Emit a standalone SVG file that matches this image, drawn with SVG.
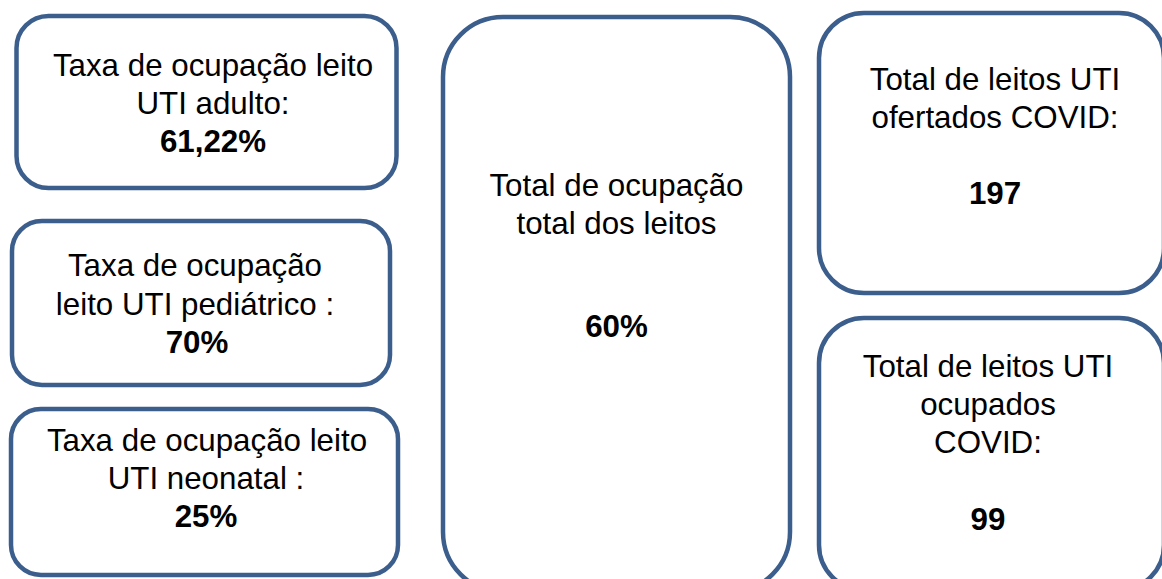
<svg xmlns="http://www.w3.org/2000/svg" width="1162" height="579" viewBox="0 0 1162 579">
<style>
.box{fill:#ffffff;stroke:#3B5E8C;stroke-width:4.5}
.t{font-family:"Liberation Sans",Arial,sans-serif;font-size:31.3px;fill:#000000;text-anchor:middle}
.b{font-weight:bold}
</style>
<rect width="1162" height="579" fill="#ffffff"/>
<g id="connectors"/>
<g id="uti-adulto">
<rect class="box" x="16.5" y="16" width="380" height="172" rx="32" ry="32"/>
<text class="t" x="213" y="76">Taxa de ocupação leito</text>
<text class="t" x="213" y="114">UTI adulto:</text>
<text class="t b" x="213" y="152">61,22%</text>
</g>
<g id="uti-pediatrico">
<rect class="box" x="12" y="221" width="378" height="164" rx="30" ry="30"/>
<text class="t" x="195" y="276">Taxa de ocupação</text>
<text class="t" x="195" y="315">leito UTI pediátrico :</text>
<text class="t b" x="197" y="353">70%</text>
</g>
<g id="uti-neonatal">
<rect class="box" x="11" y="409" width="387" height="166" rx="30" ry="30"/>
<text class="t" x="207" y="451">Taxa de ocupação leito</text>
<text class="t" x="206" y="489">UTI neonatal :</text>
<text class="t b" x="206" y="527">25%</text>
</g>
<g id="total-ocupacao">
<rect class="box" x="443" y="17" width="347" height="575" rx="60" ry="60"/>
<text class="t" x="616.5" y="196">Total de ocupação</text>
<text class="t" x="616.5" y="234">total dos leitos</text>
<text class="t b" x="616.5" y="337">60%</text>
</g>
<g id="leitos-ofertados">
<rect class="box" x="819" y="13" width="345" height="280" rx="45" ry="45"/>
<text class="t" x="995" y="90">Total de leitos UTI</text>
<text class="t" x="995" y="128">ofertados COVID:</text>
<text class="t b" x="995" y="204">197</text>
</g>
<g id="leitos-ocupados">
<rect class="box" x="819" y="318" width="345" height="272" rx="45" ry="45"/>
<text class="t" x="988" y="377">Total de leitos UTI</text>
<text class="t" x="988" y="415">ocupados</text>
<text class="t" x="988" y="453">COVID:</text>
<text class="t b" x="988" y="530">99</text>
</g>
</svg>
